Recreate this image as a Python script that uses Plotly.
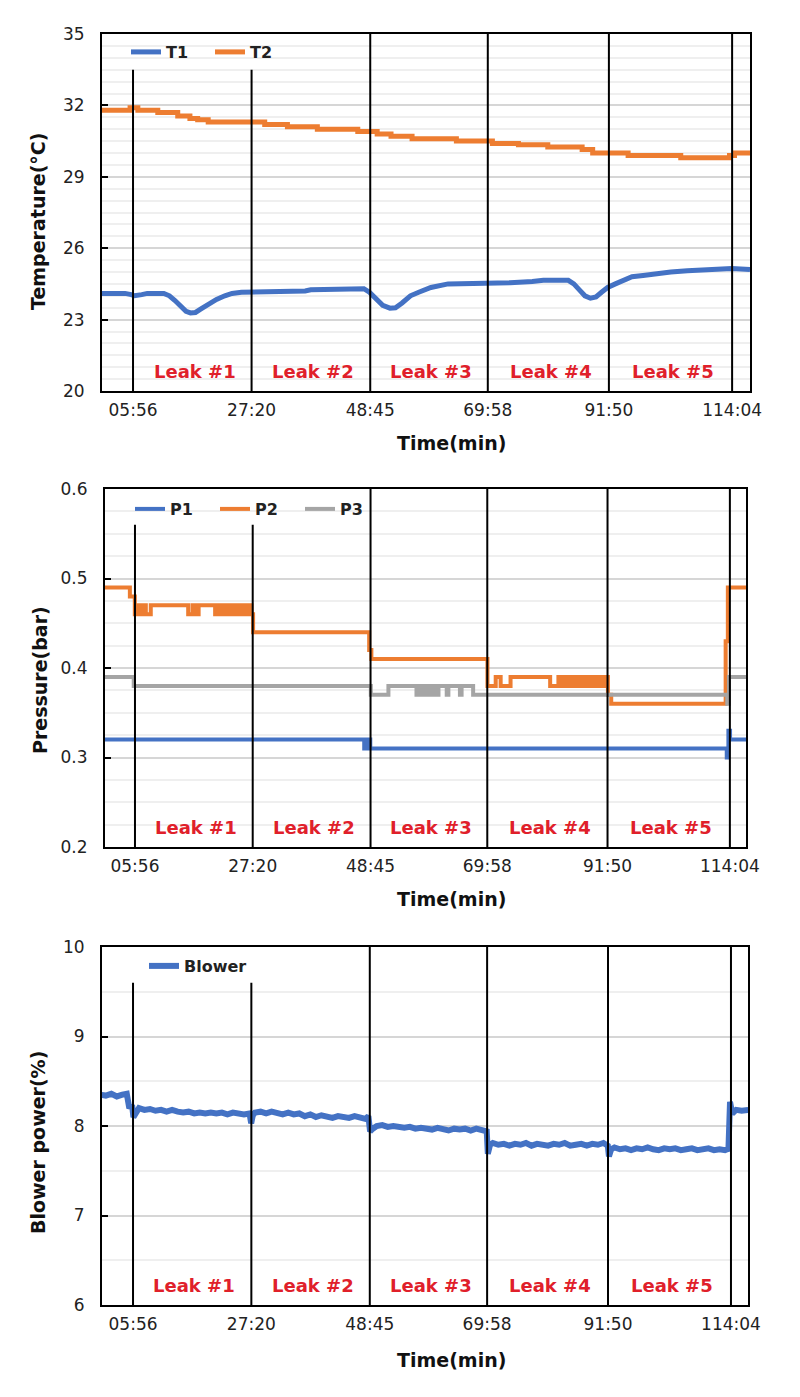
import plotly.graph_objects as go

# ---------------- data ----------------
tick_minutes = [5.93, 27.33, 48.75, 69.97, 91.83, 114.07]
tick_labels = ["05:56", "27:20", "48:45", "69:58", "91:50", "114:04"]
leak_bounds = [5.93, 27.33, 48.75, 69.97, 91.83, 114.07]
leak_names = ["Leak #1", "Leak #2", "Leak #3", "Leak #4", "Leak #5"]

t1_time = [0, 2, 3, 4.5, 5.6, 6.2, 7.5, 8.5, 11.5, 12.5,
           13.5, 14.5, 15.5, 16.3, 17.2, 18.2, 19.5, 21, 22.5, 23.8,
           25.5, 28, 30.5, 31, 37, 38, 43.5, 44, 47.6, 48.6,
           49.8, 51, 52.3, 53.3, 54.5, 56, 57.5, 59.7, 62.8, 66,
           69.9, 72, 74, 78, 80, 84.5, 85.5, 86.5, 87.5, 88.5,
           89.5, 90.5, 91.6, 93, 94.5, 96, 98, 100.5, 103, 106,
           110, 114, 117.3]
t1_temp = [24.1, 24.1, 24.15, 24.1, 24.05, 24.0, 24.05, 24.1, 24.1, 24.0,
           23.8, 23.55, 23.35, 23.28, 23.3, 23.45, 23.65, 23.85, 24.0, 24.1,
           24.15, 24.15, 24.15, 24.2, 24.2, 24.25, 24.25, 24.3, 24.3, 24.15,
           23.9, 23.6, 23.48, 23.5, 23.7, 24.0, 24.15, 24.35, 24.5, 24.5,
           24.5, 24.55, 24.55, 24.6, 24.65, 24.65, 24.5, 24.25, 24.0, 23.9,
           23.95, 24.15, 24.35, 24.5, 24.65, 24.8, 24.85, 24.95, 25.0, 25.05,
           25.1, 25.15, 25.1]

t2_time = [0, 5.4, 6.8, 10.4, 14.0, 16.2, 17.6, 19.5, 29.7, 33.8,
           39.2, 46.5, 50.0, 52.5, 56.3, 64.3, 70.8, 75.5, 80.8, 87.0,
           88.9, 95.3, 104.8, 113.6, 114.5, 117.3]
t2_temp = [31.8, 31.9, 31.8, 31.7, 31.55, 31.45, 31.4, 31.3, 31.2, 31.1,
           31.0, 30.9, 30.8, 30.7, 30.6, 30.5, 30.4, 30.35, 30.25, 30.15,
           30.0, 29.9, 29.8, 29.9, 30.0, 30.0]

p1_time = [0, 47.6, 48.1, 48.7, 113.5, 113.8, 114.1, 117.2]
p1_bar = [0.32, 0.31, 0.32, 0.31, 0.30, 0.33, 0.32, 0.32]

p2_time = [0, 5.0, 5.9, 6.2, 6.5, 6.8, 7.1, 7.4, 7.9, 8.8, 15.6, 16.4, 16.8, 17.5,
           20.5, 20.8, 21.1, 21.4, 21.7, 22.0, 22.3, 22.6, 22.9, 23.2, 23.5, 23.8,
           24.1, 24.4, 24.7, 25.0, 25.3, 25.6, 25.9, 26.2, 26.5, 26.8, 27.1,
           27.4, 48.5, 48.9, 70.0, 71.5, 72.4, 74.2, 81.4, 82.9,
           83.5, 83.8, 84.1, 84.4, 84.7, 85.0, 85.3, 85.6, 85.9, 86.2, 86.5, 86.8,
           87.1, 87.4, 87.7, 88.0, 88.3, 88.6, 88.9, 89.2, 89.5, 89.8, 90.1, 90.4,
           90.7, 91.0, 91.3, 91.6,
           91.9, 92.5, 113.3, 113.7, 117.2]
p2_bar = [0.49, 0.48, 0.46, 0.47, 0.46, 0.47, 0.46, 0.47, 0.46, 0.47, 0.46, 0.47, 0.46, 0.47,
          0.46, 0.47, 0.46, 0.47, 0.46, 0.47, 0.46, 0.47, 0.46, 0.47, 0.46, 0.47,
          0.46, 0.47, 0.46, 0.47, 0.46, 0.47, 0.46, 0.47, 0.46, 0.47, 0.46,
          0.44, 0.42, 0.41, 0.38, 0.39, 0.38, 0.39, 0.38, 0.39,
          0.38, 0.39, 0.38, 0.39, 0.38, 0.39, 0.38, 0.39, 0.38, 0.39, 0.38, 0.39,
          0.38, 0.39, 0.38, 0.39, 0.38, 0.39, 0.38, 0.39, 0.38, 0.39, 0.38, 0.39,
          0.38, 0.39, 0.38, 0.39,
          0.37, 0.36, 0.43, 0.49, 0.49]

p3_time = [0, 5.7, 48.8, 52.0, 57.1, 57.6, 58.0, 58.6, 59.2, 59.9,
           60.5, 61.1, 62.6, 62.9, 65.0, 65.3, 67.4, 113.6, 113.9, 117.2]
p3_bar = [0.39, 0.38, 0.37, 0.38, 0.37, 0.38, 0.37, 0.38, 0.37, 0.38,
          0.37, 0.38, 0.37, 0.38, 0.37, 0.38, 0.37, 0.36, 0.39, 0.39]

blower_time = [0, 1, 2, 3, 4, 4.8, 5.2, 5.8, 6.0, 6.5,
               7, 8, 9, 10, 11, 12, 13, 14, 15, 16,
               17, 18, 19, 20, 21, 22, 23, 24, 25, 26,
               27, 27.3, 27.6, 28, 29, 30, 31, 32, 33, 34,
               35, 36, 37, 38, 39, 40, 41, 42, 43, 44,
               45, 46, 47, 48, 48.5, 48.8, 49.3, 50, 51, 52,
               53, 54, 55, 56, 57, 58, 59, 60, 61, 62,
               63, 64, 65, 66, 67, 68, 69, 69.9, 70.1, 70.5,
               71, 72, 73, 74, 75, 76, 77, 78, 79, 80,
               81, 82, 83, 84, 85, 86, 87, 88, 89, 90,
               91, 91.8, 92.0, 92.4, 93, 94, 95, 96, 97, 98,
               99, 100, 101, 102, 103, 104, 105, 106, 107, 108,
               109, 110, 111, 112, 113, 113.4, 113.6, 113.9, 114.3, 115,
               116, 117.2]
blower_power = [8.35, 8.34, 8.36, 8.33, 8.35, 8.36, 8.22, 8.21, 8.10, 8.16,
                8.20, 8.18, 8.19, 8.17, 8.18, 8.16, 8.18, 8.16, 8.15, 8.16,
                8.14, 8.15, 8.14, 8.15, 8.14, 8.15, 8.13, 8.15, 8.14, 8.13,
                8.14, 8.03, 8.12, 8.15, 8.16, 8.14, 8.16, 8.15, 8.13, 8.15,
                8.13, 8.14, 8.11, 8.13, 8.10, 8.12, 8.11, 8.09, 8.11, 8.10,
                8.09, 8.11, 8.10, 8.08, 8.11, 7.94, 7.97, 8.00, 8.01, 7.99,
                8.00, 7.99, 7.98, 7.99, 7.97, 7.98, 7.97, 7.96, 7.98, 7.97,
                7.95, 7.97, 7.96, 7.97, 7.95, 7.97, 7.95, 7.94, 7.69, 7.79,
                7.81, 7.79, 7.80, 7.78, 7.80, 7.79, 7.81, 7.78, 7.80, 7.79,
                7.78, 7.80, 7.79, 7.81, 7.78, 7.79, 7.80, 7.78, 7.80, 7.79,
                7.81, 7.78, 7.66, 7.74, 7.76, 7.74, 7.75, 7.73, 7.75, 7.74,
                7.76, 7.74, 7.73, 7.75, 7.74, 7.75, 7.73, 7.74, 7.75, 7.73,
                7.74, 7.75, 7.73, 7.74, 7.73, 7.74, 7.72, 8.27, 8.14, 8.18,
                8.17, 8.18]

# ---------------- style ----------------
BLUE = "#4472C4"
ORANGE = "#ED7D31"
GRAY = "#A5A5A5"
RED = "#E0202A"
FONT = "DejaVu Sans"
H = 1397.0
W = 800.0

fig = go.Figure()

fig.add_trace(go.Scatter(x=t1_time, y=t1_temp, name="T1", mode="lines",
                         line=dict(color=BLUE, width=5), xaxis="x", yaxis="y", legend="legend"))
fig.add_trace(go.Scatter(x=t2_time, y=t2_temp, name="T2", mode="lines",
                         line=dict(color=ORANGE, width=5, shape="hv"), xaxis="x", yaxis="y", legend="legend"))

fig.add_trace(go.Scatter(x=p1_time, y=p1_bar, name="P1", mode="lines",
                         line=dict(color=BLUE, width=4, shape="hv"), xaxis="x2", yaxis="y2", legend="legend2"))
fig.add_trace(go.Scatter(x=p2_time, y=p2_bar, name="P2", mode="lines",
                         line=dict(color=ORANGE, width=4, shape="hv"), xaxis="x2", yaxis="y2", legend="legend2"))
fig.add_trace(go.Scatter(x=p3_time, y=p3_bar, name="P3", mode="lines",
                         line=dict(color=GRAY, width=4, shape="hv"), xaxis="x2", yaxis="y2", legend="legend2"))

fig.add_trace(go.Scatter(x=blower_time, y=blower_power, name="Blower", mode="lines",
                         line=dict(color=BLUE, width=6), xaxis="x3", yaxis="y3", legend="legend3"))

panels = [
    # x key, y key, x domain px, y top px, y bottom px, x range, y range, major, minor,
    # y title, y-title centre (x px, y px), x-title y px, legend x px, legend y px, legend entry width
    ("x", "y", (102, 750), 34, 391, [0.33, 117.3], [20, 35], 3, 0.5, "Temperature(°C)", (38, 222), 443, 126, 52, 39),
    ("x2", "y2", (105, 746), 489, 847, [0.48, 117.0], [0.2, 0.6], 0.1, 0.025, "Pressure(bar)", (40, 680), 899, 130, 509, 40),
    ("x3", "y3", (102, 748), 947, 1305, [0.32, 117.15], [6, 10], 1, 0.5, "Blower power(%)", (38, 1143), 1360, 144, 966, None),
]

layout = dict(width=800, height=1397, autosize=False, margin=dict(l=0, r=0, t=0, b=0),
              plot_bgcolor="white", paper_bgcolor="white",
              font=dict(family=FONT, color="#222222"))
shapes = []
annotations = []
legend_keys = ["legend", "legend2", "legend3"]

for i, (xk, yk, xd, ytop, ybot, xr, yr, major, minor, ytitle, ytc, xty, lgx, lgy, ew) in enumerate(panels):
    xname = "xaxis" if xk == "x" else "xaxis" + xk[1:]
    yname = "yaxis" if yk == "y" else "yaxis" + yk[1:]
    layout[xname] = dict(
        domain=[xd[0] / W, xd[1] / W], anchor=yk, range=xr,
        showline=True, linecolor="black", linewidth=2, mirror=True,
        showgrid=False, zeroline=False, ticks="",
        tickvals=tick_minutes, ticktext=tick_labels,
        tickfont=dict(size=17, family=FONT, color="#222222"), ticklabelstandoff=3,
        automargin=False,
    )
    layout[yname] = dict(
        domain=[1 - ybot / H, 1 - ytop / H], anchor=xk, range=yr,
        showline=True, linecolor="black", linewidth=2, mirror=True,
        zeroline=False, tick0=yr[0], dtick=major,
        ticks="inside", ticklen=6, tickwidth=2, tickcolor="black",
        showgrid=True, gridcolor="#d6d6d6", gridwidth=1.5,
        minor=dict(dtick=minor, tick0=yr[0], showgrid=True, gridcolor="#efefef", gridwidth=1.5, ticks=""),
        tickfont=dict(size=17, family=FONT, color="#222222"), ticklabelstandoff=12,
        automargin=False,
    )
    leg = dict(
        x=lgx / W, xanchor="left", y=1 - lgy / H, yanchor="middle",
        orientation="h", bgcolor="rgba(0,0,0,0)",
        font=dict(size=16, family=FONT, weight="bold", color="#222222"),
    )
    if ew is not None:
        leg["entrywidth"] = ew
        leg["entrywidthmode"] = "pixels"
    layout[legend_keys[i]] = leg
    # leak boundary lines
    for j, t in enumerate(leak_bounds):
        shapes.append(dict(type="line", xref=xk, yref=yk + " domain",
                           x0=t, x1=t, y0=0, y1=(0.9 if j < 2 else 1.0),
                           line=dict(color="black", width=2)))
    # leak labels
    for j, name in enumerate(leak_names):
        annotations.append(dict(text=name, xref=xk, yref=yk + " domain",
                                x=(leak_bounds[j] + leak_bounds[j + 1]) / 2 + 0.4, y=0.055,
                                showarrow=False, xanchor="center", yanchor="middle",
                                font=dict(size=18, family=FONT, weight="bold", color=RED)))
    # y-axis title
    annotations.append(dict(text=ytitle, xref="paper", yref="paper",
                            x=ytc[0] / W, y=1 - ytc[1] / H, textangle=-90, showarrow=False,
                            xanchor="center", yanchor="middle",
                            font=dict(size=19, family=FONT, weight="bold", color="#111111")))
    # x-axis title
    annotations.append(dict(text="Time(min)", xref="paper", yref="paper",
                            x=451 / W, y=1 - xty / H, showarrow=False,
                            xanchor="center", yanchor="middle",
                            font=dict(size=19, family=FONT, weight="bold", color="#111111")))

layout["shapes"] = shapes
layout["annotations"] = annotations
fig.update_layout(**layout)

fig.write_html("out.html", config={"responsive": False})
